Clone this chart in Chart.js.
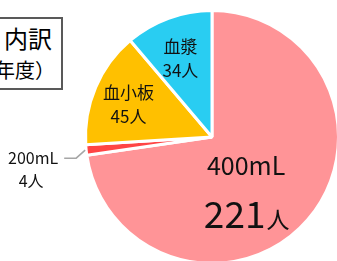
<!DOCTYPE html>
<html>
<head>
<meta charset="utf-8">
<script src="https://cdn.jsdelivr.net/npm/chart.js@4/dist/chart.umd.min.js"></script>
<style>
  html, body { margin: 0; padding: 0; width: 337px; height: 261px; overflow: hidden; background: #fff; }
  body { position: relative; font-family: "Noto Sans CJK JP", sans-serif; }
  #pie { position: absolute; left: 0; top: 0; }
  #box {
    position: absolute; left: -40px; top: 17px; width: 99px; height: 69px;
    border: 2px solid #595959; color: #000; background: #fff;
  }
  #box .t1 { position: absolute; right: 9px; top: 3px; font-size: 24px; line-height: 32px; }
  #box .t2 { position: absolute; right: 6px; top: 38px; font-size: 20px; line-height: 26px; }
</style>
</head>
<body>
<canvas id="pie" width="340" height="266"></canvas>
<div id="box"><div class="t1">内訳</div><div class="t2">年度）</div></div>
<script>
var categories = ['400mL', '200mL', '血小板', '血漿']
var donors = [221, 4, 45, 34]
var sliceColors = ['#FF9497', '#FF4545', '#FFC000', '#29CDF2']

// label placement relative to pie center, in radius units
var labelSpots = [[0.27, 0.41], null, [-0.66, -0.26], [-0.25, -0.62]]

var labelPlugin = {
  id: 'sliceLabels',
  afterDatasetsDraw: function (chart) {
    var ctx = chart.ctx
    var arcs = chart.getDatasetMeta(0).data
    var cx = arcs[0].x
    var cy = arcs[0].y
    var r = arcs[0].outerRadius
    var font = '"Noto Sans CJK JP", sans-serif'
    ctx.save()
    ctx.fillStyle = '#111'
    for (var i = 0; i < arcs.length; i++) {
      var spot = labelSpots[i]
      if (!spot) continue
      var x = cx + spot[0] * r
      var y = cy + spot[1] * r
      ctx.textAlign = 'center'
      ctx.textBaseline = 'middle'
      if (i === 0) {
        ctx.font = '25px ' + font
        ctx.fillText(categories[i], x, y - 23)
        ctx.font = '37px ' + font
        var num = String(donors[i])
        var w1 = ctx.measureText(num).width
        ctx.font = '23px ' + font
        var w2 = ctx.measureText('人').width
        var start = x - (w1 + w2) / 2
        ctx.textAlign = 'left'
        ctx.textBaseline = 'alphabetic'
        ctx.font = '37px ' + font
        ctx.fillText(num, start, y + 39)
        ctx.font = '23px ' + font
        ctx.fillText('人', start + w1 + 1, y + 39)
      } else {
        ctx.font = '17px ' + font
        ctx.fillText(categories[i], x, y - 12)
        ctx.fillText(donors[i] + '人', x, y + 12)
      }
    }
    // outside label for the thin slice, with leader line
    var a = arcs[1]
    var mid = (a.startAngle + a.endAngle) / 2
    var ex = cx + Math.cos(mid) * (r + 1)
    var ey = cy + Math.sin(mid) * (r + 1)
    ctx.strokeStyle = '#A6A6A6'
    ctx.lineWidth = 1.5
    ctx.beginPath()
    ctx.moveTo(ex, ey)
    ctx.lineTo(ex - 9, ey + 8)
    ctx.lineTo(ex - 21, ey + 8)
    ctx.stroke()
    ctx.font = '16px ' + font
    ctx.textAlign = 'center'
    ctx.textBaseline = 'middle'
    ctx.fillText(categories[1], ex - 52, ey + 8)
    ctx.fillText(donors[1] + '人', ex - 54, ey + 31)
    ctx.restore()
  }
}

var ctx = document.getElementById('pie').getContext('2d')
new Chart(ctx, {
  type: 'pie',
  data: {
    labels: categories,
    datasets: [{
      data: donors,
      backgroundColor: sliceColors,
      borderColor: '#fff',
      borderWidth: 3
    }]
  },
  options: {
    responsive: false,
    animation: false,
    layout: { padding: { left: 84, top: 8, right: 0, bottom: 0 } },
    plugins: { legend: { display: false }, tooltip: { enabled: false } }
  },
  plugins: [labelPlugin]
})
</script>
</body>
</html>
